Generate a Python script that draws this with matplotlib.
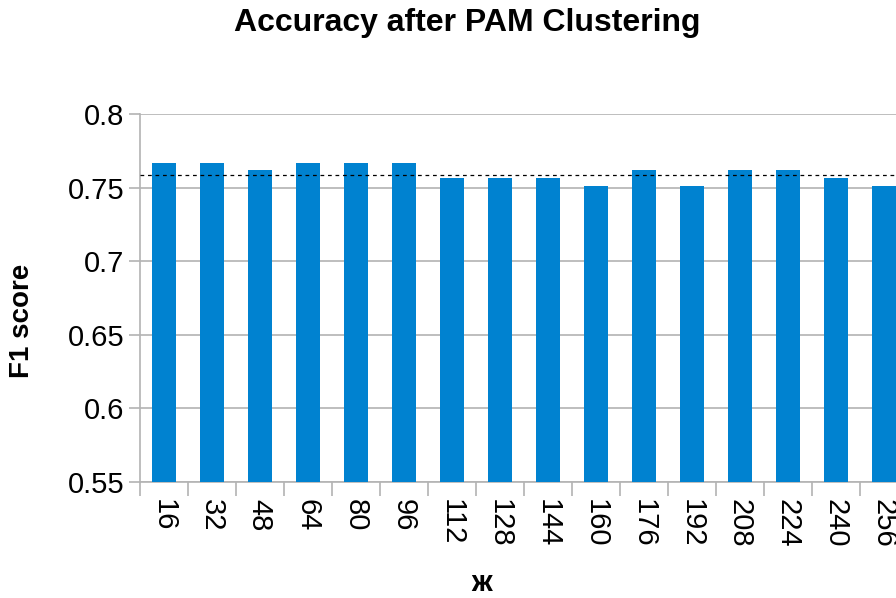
import matplotlib.pyplot as plt
import numpy as np

plt.rcParams['font.family'] = ['Liberation Sans', 'DejaVu Sans']

dims = [16, 32, 48, 64, 80, 96, 112, 128, 144, 160, 176, 192, 208, 224, 240, 256]
f1 = [0.767, 0.767, 0.762, 0.767, 0.767, 0.767, 0.7565, 0.7565,
      0.7565, 0.751, 0.762, 0.751, 0.762, 0.762, 0.7565, 0.751]
mean_f1 = 0.759

fig = plt.figure(figsize=(8.96, 5.98), dpi=100)
ax = fig.add_axes([0.156, 0.194, 0.857, 0.615])

x = np.arange(len(dims))
ax.bar(x, f1, width=0.5, color="#0082d0", zorder=3)
ax.axhline(mean_f1, color="black", linestyle=(0, (3, 3)), linewidth=0.9, zorder=4)

ax.set_xlim(-0.5, len(dims) - 0.5)
ax.set_ylim(0.55, 0.8)
ax.set_yticks([0.55, 0.6, 0.65, 0.7, 0.75, 0.8])
ax.set_yticklabels(["0.55", "0.6", "0.65", "0.7", "0.75", "0.8"], fontsize=21)
ax.yaxis.grid(True, color="#b3b3b3", linewidth=1.2, zorder=0)

ax.set_xticks(x - 0.5, minor=False)
ax.set_xticklabels([])
ax.set_xticks(x, minor=True)
ax.set_xticklabels([str(d) for d in dims], minor=True, rotation=270, fontsize=21)
ax.tick_params(axis="x", which="major", length=10, color="#b3b3b3", width=1.2)
ax.tick_params(axis="x", which="minor", length=0, pad=12)
ax.tick_params(axis="y", length=8, color="#b3b3b3", width=1.2, pad=3)

for s in ["top", "right"]:
    ax.spines[s].set_visible(False)
for s in ["left", "bottom"]:
    ax.spines[s].set_color("#b3b3b3")
    ax.spines[s].set_linewidth(1.2)

fig.text(0.522, 0.962, "Accuracy after PAM Clustering", ha="center", va="center",
         fontsize=23, fontweight="bold")
fig.text(0.025, 0.463, "F1 score", ha="center", va="center", rotation=90,
         fontsize=20, fontweight="bold")
fig.text(0.538, 0.025, "ж", ha="center", va="center", fontsize=21, fontweight="bold")

fig.savefig("out.png", dpi=100)
